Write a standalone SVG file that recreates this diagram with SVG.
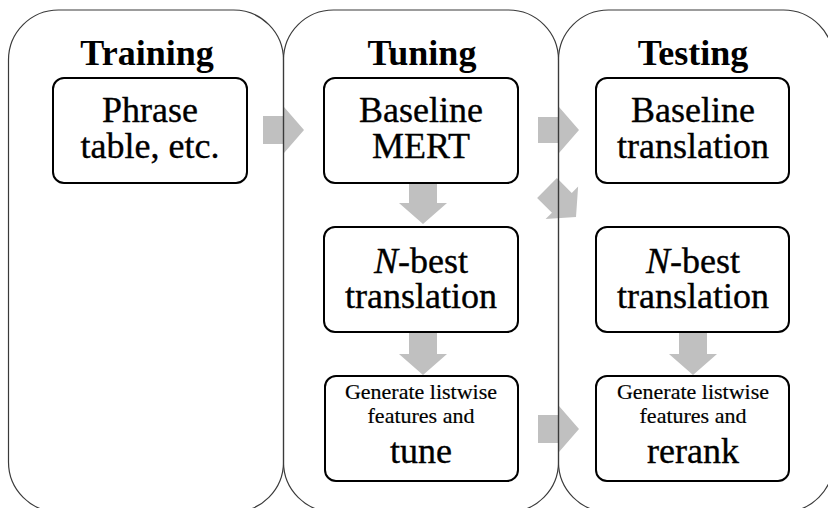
<svg xmlns="http://www.w3.org/2000/svg" width="828" height="508" viewBox="0 0 828 508">
<style>
.panel{fill:none;stroke:#3a3a3a;stroke-width:1.2}
.box{fill:#fff;stroke:#000;stroke-width:2}
.arr{fill:#c0c0c0;stroke:none}
text{font-family:"Liberation Serif","Times New Roman",serif;fill:#000;text-anchor:middle}
.title{font-size:36px;font-weight:bold}
.big{font-size:36px;stroke:#000;stroke-width:0.35}
.small{font-size:22px;stroke:#000;stroke-width:0.2}
</style>
<rect width="828" height="508" fill="#fff"/>
<g id="connectors">
<polygon class="arr" points="263,116 284,116 284,107 304,130 284,153 284,144 263,144"/>
<polygon class="arr" points="538,117 559,117 559,107 579,130 559,153 559,143 538,143"/>
<polygon class="arr" transform="translate(576,217) rotate(45)" points="-41,-14 -20,-14 -20,-23 0,0 -20,23 -20,14 -41,14"/>
<polygon class="arr" points="409,183 437,183 437,203 447,203 423,224 399,203 409,203"/>
<polygon class="arr" points="409,332 437,332 437,354 447,354 423,375 399,354 409,354"/>
<polygon class="arr" points="679,332 707,332 707,354 717,354 693,375 669,354 679,354"/>
<polygon class="arr" points="538,415 559,415 559,406 579,429 559,452 559,443 538,443"/>
</g>
<g id="training">
<rect class="panel" x="8.5" y="10" width="275" height="502" rx="50" ry="50"/>
<text class="title" x="147" y="65">Training</text>
</g>
<g id="tuning">
<rect class="panel" x="283.5" y="10" width="275" height="502" rx="50" ry="50"/>
<text class="title" x="422" y="65">Tuning</text>
</g>
<g id="testing">
<rect class="panel" x="558.5" y="10" width="275" height="502" rx="50" ry="50"/>
<text class="title" x="693" y="65">Testing</text>
</g>
<g id="phrase-table">
<rect class="box" x="53" y="78" width="194" height="105" rx="11" ry="11"/>
<text class="big" x="150" y="122">Phrase</text>
<text class="big" x="150" y="158">table, etc.</text>
</g>
<g id="baseline-mert">
<rect class="box" x="324" y="78" width="194" height="105" rx="11" ry="11"/>
<text class="big" x="421" y="122">Baseline</text>
<text class="big" x="421" y="158">MERT</text>
</g>
<g id="nbest-tuning">
<rect class="box" x="324" y="227" width="194" height="105" rx="11" ry="11"/>
<text class="big" x="421" y="273"><tspan font-style="italic">N</tspan>-best</text>
<text class="big" x="421" y="308">translation</text>
</g>
<g id="tune">
<rect class="box" x="325" y="376" width="193" height="105" rx="11" ry="11"/>
<text class="small" x="421" y="399">Generate listwise</text>
<text class="small" x="421" y="423">features and</text>
<text class="big" x="421" y="463">tune</text>
</g>
<g id="baseline-translation">
<rect class="box" x="596" y="78" width="193" height="105" rx="11" ry="11"/>
<text class="big" x="693" y="122">Baseline</text>
<text class="big" x="693" y="158">translation</text>
</g>
<g id="nbest-testing">
<rect class="box" x="596" y="227" width="193" height="105" rx="11" ry="11"/>
<text class="big" x="693" y="273"><tspan font-style="italic">N</tspan>-best</text>
<text class="big" x="693" y="308">translation</text>
</g>
<g id="rerank">
<rect class="box" x="596" y="376" width="193" height="105" rx="11" ry="11"/>
<text class="small" x="693" y="399">Generate listwise</text>
<text class="small" x="693" y="423">features and</text>
<text class="big" x="693" y="463">rerank</text>
</g>
</svg>
